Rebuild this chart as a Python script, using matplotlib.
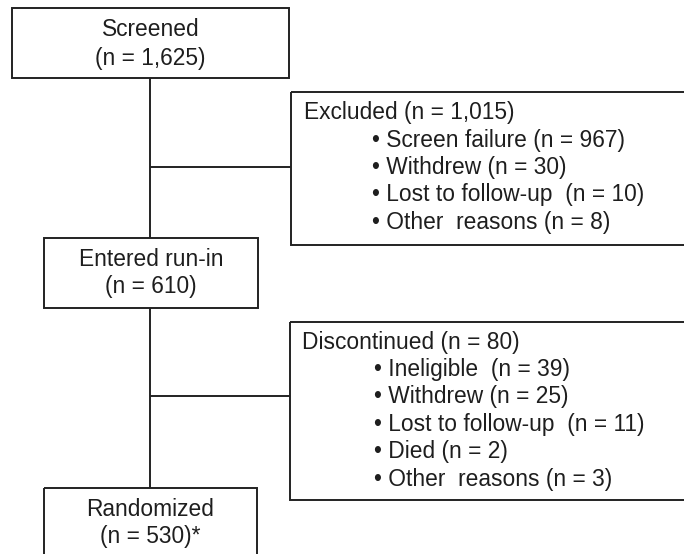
import matplotlib
matplotlib.use("Agg")
import matplotlib.pyplot as plt
from matplotlib.patches import Rectangle

# ---- content ----
main_titles = ["Screened", "Entered run-in", "Randomized"]
main_counts = ["(n = 1,625)", "(n = 610)", "(n = 530)*"]

excluded_header = "Excluded (n = 1,015)"
excluded_items = ["Screen failure (n = 967)", "Withdrew (n = 30)",
                  "Lost to follow-up  (n = 10)", "Other  reasons (n = 8)"]

discontinued_header = "Discontinued (n = 80)"
discontinued_items = ["Ineligible  (n = 39)", "Withdrew (n = 25)",
                      "Lost to follow-up  (n = 11)", "Died (n = 2)",
                      "Other  reasons (n = 3)"]

# ---- layout (pixels) ----
W, H = 684, 554
fig = plt.figure(figsize=(W / 100, H / 100), dpi=100)
ax = fig.add_axes([0, 0, 1, 1])
ax.set_xlim(0, W)
ax.set_ylim(H, 0)
ax.axis("off")

FONT = "Liberation Sans"
FS = 16.4
TC = "#1e1e1e"
LC = "#222222"
LW = 1.4

def box(x0, y0, x1, y1):
    ax.add_patch(Rectangle((x0, y0), x1 - x0, y1 - y0, fill=False,
                           edgecolor=LC, linewidth=LW, joinstyle="miter"))

def line(xs, ys):
    ax.plot(xs, ys, color=LC, linewidth=LW, solid_capstyle="butt")

def txt(x, y, s, ha="left", fs=FS):
    ax.text(x, y, s, ha=ha, va="center", fontsize=fs, family=FONT, color=TC)

spine_x = 150
main_boxes = [(12, 8, 289, 78), (44, 238, 258, 308), (44, 488, 257, 600)]
main_text_y = [(29, 59), (260, 287), (510, 536)]

# vertical spine
line([spine_x, spine_x], [78, 238])
line([spine_x, spine_x], [308, 488])

for (bx, t, c, ty) in zip(main_boxes, main_titles, main_counts, main_text_y):
    box(*bx)
    cx = (bx[0] + bx[2]) / 2
    txt(cx, ty[0], t, ha="center")
    txt(cx, ty[1], c, ha="center")

# side boxes
box(291, 92, 700, 245)
line([spine_x, 291], [167, 167])
txt(304, 113, excluded_header)
for i, s in enumerate(excluded_items):
    txt(372, 140 + i * 27.5, "\u2022 " + s)

box(290, 322, 700, 500)
line([spine_x, 290], [396, 396])
txt(302, 342, discontinued_header)
for i, s in enumerate(discontinued_items):
    txt(374, 369.5 + i * 27.4, "\u2022 " + s)

fig.savefig("out.png", dpi=100, facecolor="white")
